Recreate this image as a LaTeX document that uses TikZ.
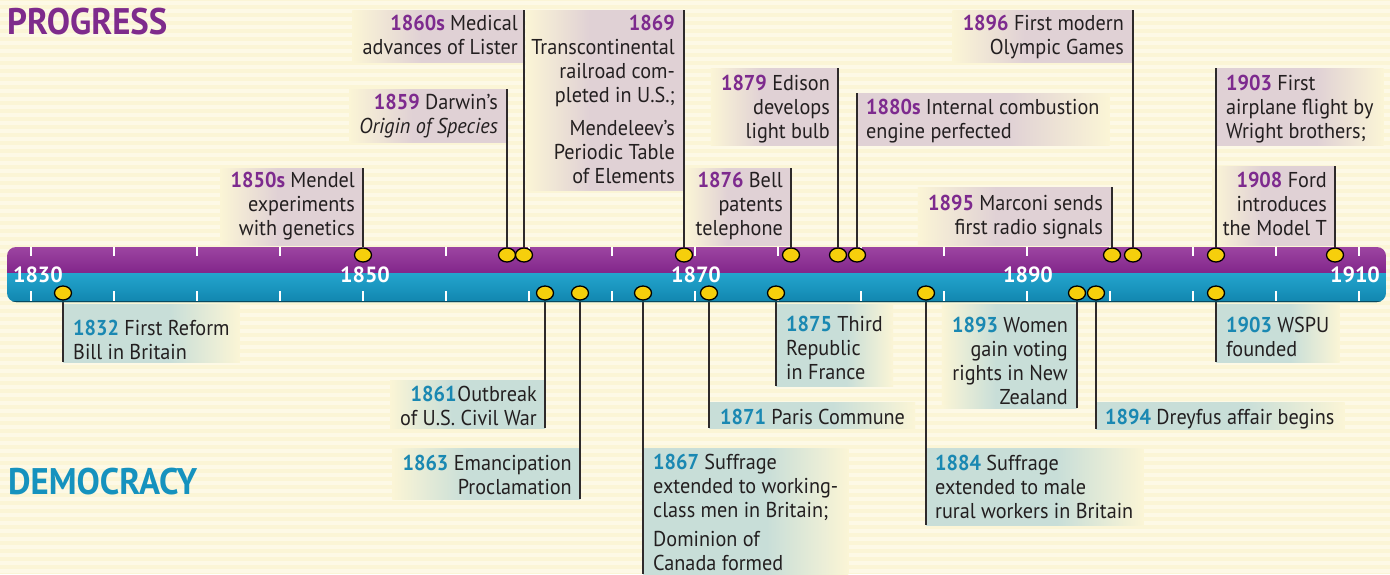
\documentclass[tikz,border=0pt]{standalone}
\usepackage{fontspec}
\setmainfont{PT Sans}[FakeStretch=0.94]
\newfontfamily\yrfont{PT Sans}
\usetikzlibrary{shapes.geometric,fit,calc}
\definecolor{bgc}{HTML}{FBF5D6}
\definecolor{stripe}{HTML}{FDF9E6}
\definecolor{ptxt}{HTML}{7D2A8E}
\definecolor{btxt}{HTML}{1A88B2}
\definecolor{txt}{HTML}{231F20}
\definecolor{pbox}{HTML}{E0D1D5}
\definecolor{bbox}{HTML}{C8DED8}
\definecolor{barPL}{HTML}{9C45A1}
\definecolor{barPD}{HTML}{82258A}
\definecolor{barCL}{HTML}{23A4CD}
\definecolor{barCD}{HTML}{1186AF}
\definecolor{dotc}{HTML}{F6CF0C}
\definecolor{stemc}{HTML}{2E2A2B}
\definecolor{ptitle}{HTML}{7E2B8C}
\definecolor{btitle}{HTML}{1592BE}
\pgfdeclarehorizontalshading{fadeP}{100bp}{color(0bp)=(bgc); color(25bp)=(bgc); color(45bp)=(pbox); color(100bp)=(pbox)}
\pgfdeclarehorizontalshading{fadeB}{100bp}{color(0bp)=(bgc); color(25bp)=(bgc); color(45bp)=(bbox); color(100bp)=(bbox)}
\pgfdeclarelayer{bgA}\pgfdeclarelayer{bgB}\pgfdeclarelayer{stemL}
\pgfsetlayers{bgA,bgB,stemL,main}
\newcommand\st{\rule{0pt}{17pt}}
\newcommand\yp[1]{\textbf{\color{ptxt}#1}}
\newcommand\yb[1]{\textbf{\color{btxt}#1}}
% box with text left of stem
\newcommand\boxR[6]{\coordinate (#1f) at ($(#2.west)+(-#5,0)$);\node[boxst, shading=#6, fit=(#1f)(#3)(#4)] (#1) {};}
% box with text right of stem
\newcommand\boxL[6]{\coordinate (#1f) at ($(#2.east)+(#5,0)$);\node[boxst, shading=#6, shading angle=180, fit=(#1f)(#3)(#4)] (#1) {};}
\begin{document}
\begin{tikzpicture}[x=1pt,y=-1pt,
  lab/.style={font=\fontsize{21.5}{24}\selectfont, inner sep=0pt, text=txt},
  labR/.style={lab, align=right, anchor=north east},
  labL/.style={lab, align=left, anchor=north west},
  dot/.style={ellipse, minimum width=17pt, minimum height=14pt, inner sep=0pt, fill=dotc, draw=black, line width=1.3pt},
  stemline/.style={draw=stemc, line width=2.2pt},
  tick/.style={draw=white, line width=2pt},
  yr/.style={font=\yrfont\bfseries\fontsize{22}{24}\selectfont, text=white, inner sep=0pt},
  boxst/.style={inner sep=0pt, shade},
  ttl/.style={font=\bfseries\fontsize{37}{40}\selectfont, inner sep=0pt, anchor=west}]
\useasboundingbox (0,0) rectangle (1390,574);
\begin{pgfonlayer}{bgA}
  \fill[bgc] (0,0) rectangle (1390,574);
  \foreach \y in {3,11,...,574} \draw[stripe, line width=3.5pt] (0,\y) -- (1390,\y);
\end{pgfonlayer}
% titles
\node[ttl, text=ptitle] (tP) at (7,22) {PROGRESS};
\node[ttl, text=btitle] (tD) at (8,482) {DEMOCRACY};
% bar
\begin{scope}
  \clip[rounded corners=9pt] (7,247) rectangle (1386,302);
  \shade[top color=barPL, bottom color=barPD] (7,247) rectangle (1386,273.5);
  \shade[top color=barCL, bottom color=barCD] (7,273.5) rectangle (1386,302);
  \draw[barCD!55!black, line width=2pt] (7,301.5) -- (1386,301.5);
\end{scope}
\foreach \i in {0,...,16} {
  \draw[tick] ({31+83*\i},247) -- ({31+83*\i},256);
  \draw[tick] ({31+83*\i},291) -- ({31+83*\i},301);
}
\node[yr] (y1830) at (38,275) {1830};
\node[yr] (y1850) at (365,275) {1850};
\node[yr] (y1870) at (696,275) {1870};
\node[yr] (y1890) at (1028,275) {1890};
\node[yr] (y1910) at (1355,275) {1910};
% dots top
\node[dot] (dMendel) at (363,255) {};
\node[dot] (dDarwin) at (507,255) {};
\node[dot] (dLister) at (524,255) {};
\node[dot] (dRail) at (684,255) {};
\node[dot] (dBell) at (791,255) {};
\node[dot] (dEdison) at (838,255) {};
\node[dot] (dEngine) at (857,255) {};
\node[dot] (dMarconi) at (1112,255) {};
\node[dot] (dOlymp) at (1133,255) {};
\node[dot] (dAir) at (1216,255) {};
\node[dot] (dFord) at (1335,255) {};
% dots bottom
\node[dot] (dReform) at (63,293) {};
\node[dot] (dWar) at (545,293) {};
\node[dot] (dEman) at (580,293) {};
\node[dot] (dSuff) at (643,293) {};
\node[dot] (dParis) at (709,293) {};
\node[dot] (dRep) at (776,293) {};
\node[dot] (dRural) at (926,293) {};
\node[dot] (dWomen) at (1077,293) {};
\node[dot] (dDrey) at (1096,293) {};
\node[dot] (dWSPU) at (1216,293) {};
% stem ends / box corners
\coordinate (tMendel) at (363,168); \coordinate (bMendel) at (363,245);
\coordinate (tDarwin) at (507,89);  \coordinate (bDarwin) at (507,142);
\coordinate (tLister) at (524,10);  \coordinate (bLister) at (524,62);
\coordinate (tRail) at (684,10);    \coordinate (bRail) at (684,190);
\coordinate (tBell) at (791,168);   \coordinate (bBell) at (791,245);
\coordinate (tEdison) at (838,68);  \coordinate (bEdison) at (838,145);
\coordinate (tEngine) at (857,93);  \coordinate (bEngine) at (857,145);
\coordinate (tMarconi) at (1112,187); \coordinate (bMarconi) at (1112,245);
\coordinate (tOlymp) at (1133,10);  \coordinate (bOlymp) at (1133,62);
\coordinate (tAir) at (1216,68);    \coordinate (bAir) at (1216,145);
\coordinate (tFord) at (1335,166);  \coordinate (bFord) at (1335,245);
\coordinate (uReform) at (63,304);  \coordinate (tReform) at (63,362);
\coordinate (uWar) at (545,380);    \coordinate (tWar) at (545,428);
\coordinate (uEman) at (580,448);   \coordinate (tEman) at (580,499);
\coordinate (uSuff) at (643,448);   \coordinate (tSuff) at (643,574);
\coordinate (uParis) at (709,402);  \coordinate (tParis) at (709,428);
\coordinate (uRep) at (776,304);    \coordinate (tRep) at (776,386);
\coordinate (uRural) at (926,448);  \coordinate (tRural) at (926,525);
\coordinate (uWomen) at (1077,304); \coordinate (tWomen) at (1077,408);
\coordinate (uDrey) at (1096,402);  \coordinate (tDrey) at (1096,429);
\coordinate (uWSPU) at (1216,304);  \coordinate (tWSPU) at (1216,362);
% top labels
\node[labR] (LMendel) at (355,170.5) {\st\yp{1850s} Mendel\\experiments\\with genetics};
\node[labR] (LDarwin) at (498,92.5) {\st\yp{1859} Darwin’s\\\textit{Origin of Species}};
\node[labR] (LLister) at (518,13.5) {\st\yp{1860s} Medical\\advances of Lister};
\node[labR] (LRail) at (675,13.5) {\st\yp{1869}\\Transcontinental\\railroad com-\\pleted in U.S.;\\[9pt]Mendeleev’s\\Periodic Table\\of Elements};
\node[labR] (LBell) at (783,170.5) {\st\yp{1876} Bell\\patents\\telephone};
\node[labR] (LEdison) at (830,73.5) {\st\yp{1879} Edison\\develops\\light bulb};
\node[labL] (LEngine) at (866,97.5) {\st\yp{1880s} Internal combustion\\engine perfected};
\node[labR] (LMarconi) at (1103,193.5) {\st\yp{1895} Marconi sends\\first radio signals};
\node[labR] (LOlymp) at (1124,13.5) {\st\yp{1896} First modern\\Olympic Games};
\node[labL] (LAir) at (1226,73.5) {\st\yp{1903} First\\airplane flight by\\Wright brothers;};
\node[labR] (LFord) at (1327,170.5) {\st\yp{1908} Ford\\introduces\\the Model T};
% bottom labels
\node[labL] (LReform) at (73,318.5) {\st\yb{1832} First Reform\\Bill in Britain};
\node[labR] (LWar) at (537,384.5) {\st\yb{1861}\hspace{1pt}Outbreak\\of U.S. Civil War};
\node[labR] (LEman) at (572,453.5) {\st\yb{1863} Emancipation\\Proclamation};
\node[labL] (LSuff) at (653,452) {\st\yb{1867} Suffrage\\extended to working-\\class men in Britain;\\[5pt]Dominion of\\Canada formed};
\node[labL] (LParis) at (720,407.5) {\st\yb{1871} Paris Commune};
\node[labL] (LRep) at (786,314.5) {\st\yb{1875} Third\\Republic\\in France};
\node[labL] (LRural) at (935,453.5) {\st\yb{1884} Suffrage\\extended to male\\rural workers in Britain};
\node[labR] (LWomen) at (1068,315.5) {\st\yb{1893} Women\\gain voting\\rights in New\\Zealand};
\node[labL] (LDrey) at (1105,407.5) {\st\yb{1894} Dreyfus affair begins};
\node[labL] (LWSPU) at (1226,315.5) {\st\yb{1903} WSPU\\founded};
% boxes
\begin{pgfonlayer}{bgB}
  \boxR{BMendel}{LMendel}{tMendel}{bMendel}{10}{fadeP}
  \boxR{BDarwin}{LDarwin}{tDarwin}{bDarwin}{10}{fadeP}
  \boxR{BLister}{LLister}{tLister}{bLister}{10}{fadeP}
  \boxR{BRail}{LRail}{tRail}{bRail}{5}{fadeP}
  \boxR{BBell}{LBell}{tBell}{bBell}{10}{fadeP}
  \boxR{BEdison}{LEdison}{tEdison}{bEdison}{10}{fadeP}
  \boxL{BEngine}{LEngine}{tEngine}{bEngine}{10}{fadeP}
  \boxR{BMarconi}{LMarconi}{tMarconi}{bMarconi}{10}{fadeP}
  \boxR{BOlymp}{LOlymp}{tOlymp}{bOlymp}{10}{fadeP}
  \boxL{BAir}{LAir}{tAir}{bAir}{10}{fadeP}
  \boxR{BFord}{LFord}{tFord}{bFord}{10}{fadeP}
  \boxL{BReform}{LReform}{uReform}{tReform}{10}{fadeB}
  \boxR{BWar}{LWar}{uWar}{tWar}{10}{fadeB}
  \boxR{BEman}{LEman}{uEman}{tEman}{10}{fadeB}
  \boxL{BSuff}{LSuff}{uSuff}{tSuff}{10}{fadeB}
  \boxL{BParis}{LParis}{uParis}{tParis}{10}{fadeB}
  \boxL{BRep}{LRep}{uRep}{tRep}{10}{fadeB}
  \boxL{BRural}{LRural}{uRural}{tRural}{10}{fadeB}
  \boxR{BWomen}{LWomen}{uWomen}{tWomen}{10}{fadeB}
  \boxL{BDrey}{LDrey}{uDrey}{tDrey}{10}{fadeB}
  \boxL{BWSPU}{LWSPU}{uWSPU}{tWSPU}{10}{fadeB}
\end{pgfonlayer}
% stems
\begin{pgfonlayer}{stemL}
  \foreach \n in {Mendel,Darwin,Lister,Rail,Bell,Edison,Engine,Marconi,Olymp,Air,Ford,Reform,War,Eman,Suff,Paris,Rep,Rural,Women,Drey,WSPU}
    \draw[stemline] (d\n.center) -- (t\n);
\end{pgfonlayer}
\end{tikzpicture}
\end{document}
